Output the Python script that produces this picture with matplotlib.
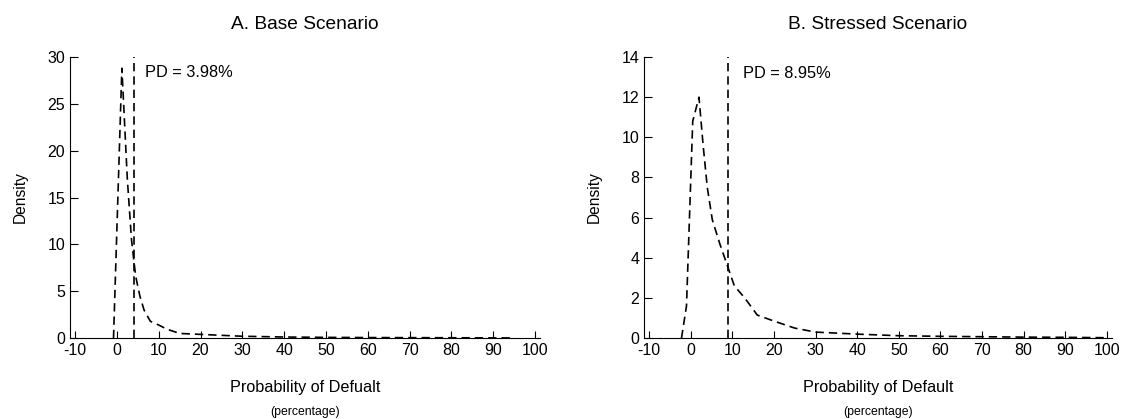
import matplotlib
matplotlib.use("Agg")
import matplotlib.pyplot as plt

plt.rcParams['font.family'] = ['Liberation Sans', 'DejaVu Sans']
plt.rcParams['axes.unicode_minus'] = False

# Panel A: base scenario density (x in %, y density)
base_x = [-0.8, 1.2, 2.5, 3.5, 4.5, 5.5, 6.5, 8, 10, 12, 15, 20, 25, 30, 40, 50, 60, 70, 80, 94]
base_y = [0, 28.8, 17, 10.5, 6.6, 4.5, 3.0, 1.8, 1.4, 0.95, 0.5, 0.4, 0.3, 0.2, 0.12, 0.08, 0.06, 0.05, 0.04, 0.02]
base_pd = 3.98

# Panel B: stressed scenario density
stress_x = [-2.2, -1.0, 0.5, 2.0, 3.0, 4.0, 5.2, 7, 9, 10.5, 13, 16, 20, 25, 30, 40, 50, 60, 70, 80, 90, 100]
stress_y = [0, 1.6, 10.8, 12.0, 9.6, 7.5, 5.9, 4.7, 3.5, 2.6, 2.0, 1.15, 0.85, 0.5, 0.3, 0.2, 0.12, 0.09, 0.07, 0.05, 0.04, 0.02]
stress_pd = 8.95

xticks = [-10, 0, 10, 20, 30, 40, 50, 60, 70, 80, 90, 100]

fig = plt.figure(figsize=(11.22, 4.19), dpi=100)
ax1 = fig.add_axes([0.0624, 0.193, 0.419, 0.671])
ax2 = fig.add_axes([0.574, 0.193, 0.417, 0.671])

panels = [
    (ax1, base_x, base_y, base_pd, "A. Base Scenario", "Probability of Defualt", 30, range(0, 31, 5), (6.7, 28.3)),
    (ax2, stress_x, stress_y, stress_pd, "B. Stressed Scenario", "Probability of Default", 14, range(0, 15, 2), (12.5, 13.2)),
]

for ax, xs, ys, pd_val, title, xlab, ytop, yt, txt in panels:
    ax.plot(xs, ys, color='black', lw=1.2, dashes=(5, 3))
    ax.plot([pd_val, pd_val], [0, ytop], color='black', lw=1.2, dashes=(5, 3))
    ax.text(txt[0], txt[1], "PD = %.2f%%" % pd_val, fontsize=11.8, va='center', ha='left')
    ax.set_xlim(-11.2, 101.2)
    ax.set_ylim(0, ytop)
    ax.set_xticks(xticks)
    ax.set_yticks(list(yt))
    ax.tick_params(direction='in', labelsize=11.5, length=5, width=0.8)
    ax.tick_params(axis='y', length=6)
    for s in ['top', 'right']:
        ax.spines[s].set_visible(False)
    ax.set_title(title, fontsize=13.8, pad=20)
    ax.set_ylabel("Density", fontsize=11.2, labelpad=14)
    ax.set_xlabel(xlab, fontsize=11.7, labelpad=16)
    ax.text(0.5, -0.263, "(percentage)", transform=ax.transAxes, ha='center', va='center', fontsize=8.8)

fig.savefig("out.png", dpi=100)
